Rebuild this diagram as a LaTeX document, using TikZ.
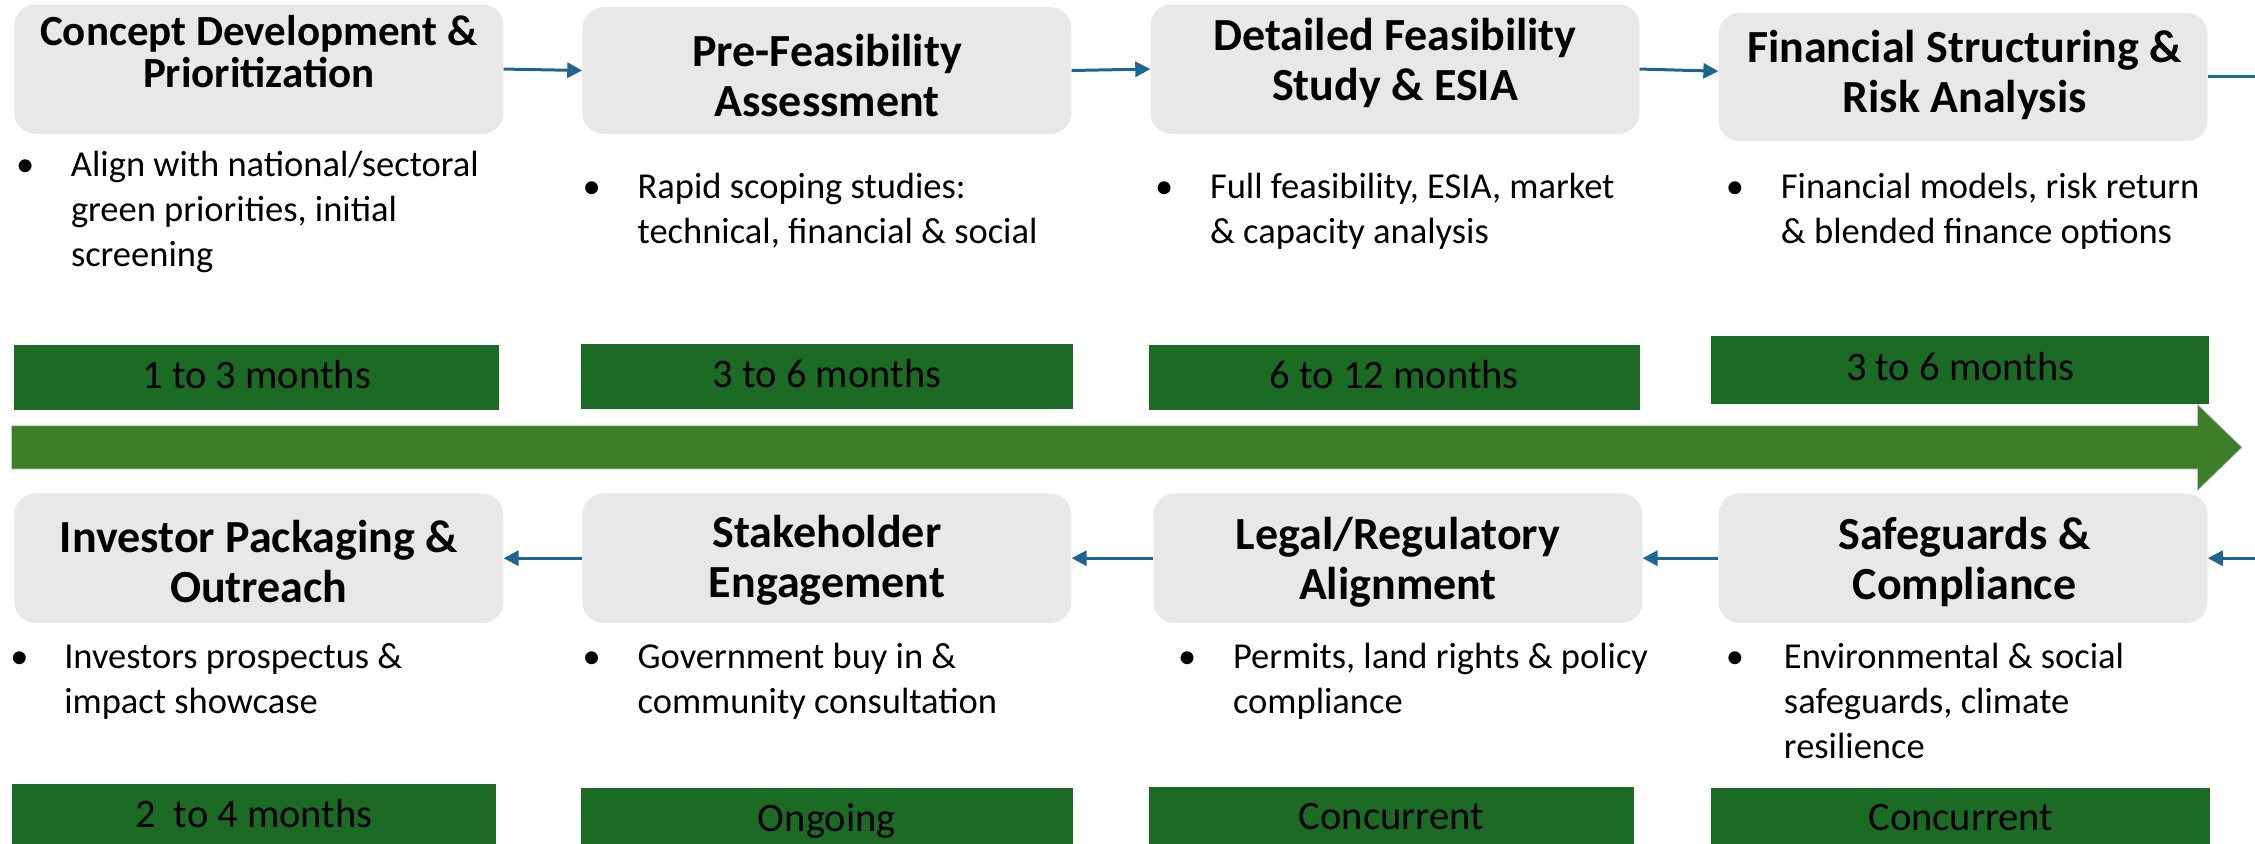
\documentclass[tikz,border=0pt]{standalone}
\usepackage{fontspec}
\setmainfont{Carlito}
\usetikzlibrary{arrows.meta,calc}
\definecolor{boxgrey}{HTML}{E8E8E8}
\definecolor{dgreen}{HTML}{1B6B24}
\definecolor{agreen}{HTML}{3D7E26}
\definecolor{conteal}{HTML}{1F6592}
\newcommand\bitem[2][55pt]{\makebox[#1][l]{\textbullet}\begin{tabular}[t]{@{}l@{}}#2\end{tabular}}
\begin{document}
\begin{tikzpicture}[x=1.4381pt,y=-1.4386pt,
  stagebox/.style={fill=boxgrey, rounded corners=21pt, inner sep=0pt, minimum width=489pt, minimum height=129.5pt},
  ttl/.style={align=center, inner sep=0pt, font=\fontsize{46}{50}\selectfont\bfseries},
  bul/.style={anchor=base west, inner sep=0pt, font=\fontsize{36.5}{45}\selectfont},
  dur/.style={fill=dgreen, inner sep=0pt, minimum height=64.7pt, text depth=0.6em, font=\fontsize{40.5}{48}\selectfont},
  conn/.style={draw=conteal, line width=3pt, -{Triangle[length=15pt,width=15pt]}},
  connplain/.style={draw=conteal, line width=3pt}]
\useasboundingbox (0,0) rectangle (1568,586);
% big timeline arrow
\fill[agreen, draw=black!22, line width=0.8pt] (8,296) -- (1528,296) -- (1528,281) -- (1559,311) -- (1528,341) -- (1528,326) -- (8,326) -- cycle;
% top stage boxes
\node[stagebox] (b1) at (180,48) {};
\node[stagebox, minimum height=126.6pt] (b2) at (575,49) {};
\node[stagebox] (b3) at (970,48) {};
\node[stagebox, minimum height=128pt] (b4) at (1365,53.5) {};
\node[ttl, font=\fontsize{43}{42}\selectfont\bfseries] (t1) at (180,36) {Concept Development \&\\Prioritization};
\node[ttl] (t2) at (575,52.5) {Pre-Feasibility\\Assessment};
\node[ttl] (t3) at (970,43.5) {Detailed Feasibility\\Study \& ESIA};
\node[ttl] (t4) at (1366,52) {Financial Structuring \&\\Risk Analysis};
% bottom stage boxes
\node[stagebox] (b5) at (180,388) {};
\node[stagebox] (b6) at (575,388) {};
\node[stagebox] (b7) at (972,388) {};
\node[stagebox] (b8) at (1365,388) {};
\node[ttl] (t5) at (180,390) {Investor Packaging \&\\Outreach};
\node[ttl] (t6) at (575,389.5) {Stakeholder\\Engagement};
\node[ttl] (t7) at (972,390.5) {Legal/Regulatory\\Alignment};
\node[ttl] (t8) at (1366,390.5) {Safeguards \&\\Compliance};
% bullets top
\node[bul] (l1) at (11,123) {\bitem{Align with national/sectoral\\green priorities, initial\\screening}};
\node[bul] (l2) at (405,138) {\bitem{Rapid scoping studies:\\technical, financial \& social}};
\node[bul] (l3) at (803,138) {\bitem{Full feasibility, ESIA, market\\\& capacity analysis}};
\node[bul] (l4) at (1200,138) {\bitem{Financial models, risk return\\\& blended finance options}};
% bullets bottom
\node[bul] (l5) at (7,465) {\bitem[54pt]{Investors prospectus \&\\impact showcase}};
\node[bul] (l6) at (405,465) {\bitem{Government buy in \&\\community consultation}};
\node[bul] (l7) at (819,465) {\bitem{Permits, land rights \& policy\\compliance}};
\node[bul] (l8) at (1200,465) {\bitem[58pt]{Environmental \& social\\safeguards, climate\\resilience}};
% durations
\node[dur, minimum width=484.6pt] (g1) at (178.5,262.5) {1 to 3 months};
\node[dur, minimum width=491.8pt] (g2) at (575,261.5) {3 to 6 months};
\node[dur, minimum width=490.4pt] (g3) at (969.5,262.5) {6 to 12 months};
\node[dur, minimum width=497.6pt, minimum height=67.6pt, text depth=0.75em] (g4) at (1363,257) {3 to 6 months};
\node[dur, minimum width=484.6pt] (g5) at (176.5,567.5) {2~~to 4 months};
\node[dur, minimum width=491.8pt] (g6) at (575,570.5) {Ongoing};
\node[dur, minimum width=484.6pt] (g7) at (967.5,569.5) {Concurrent};
\node[dur, minimum width=499pt] (g8) at (1363.5,570.5) {Concurrent};
% connectors top
\draw[conn] (b1.east) -- (b2.west);
\draw[conn] (b2.east) -- (b3.west);
\draw[conn] (b3.east) -- ($(b4.west)+(0,-4)$);
\coordinate (outR) at (1568,53);
\draw[connplain] ($(b4.east)+(0,-0.5)$) -- (outR);
% connectors bottom
\coordinate (inR) at (1568,388);
\draw[conn] (inR) -- (b8.east);
\draw[conn] (b8.west) -- (b7.east);
\draw[conn] (b7.west) -- (b6.east);
\draw[conn] (b6.west) -- (b5.east);
\end{tikzpicture}
\end{document}
